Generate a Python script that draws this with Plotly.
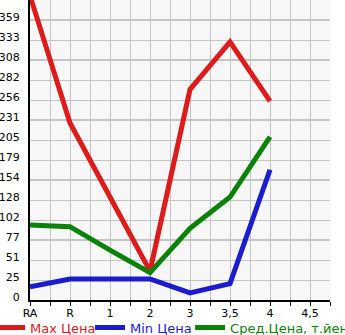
import plotly.graph_objects as go

categories = ["RA", "R", "1", "2", "3", "3,5", "4"]
max_price = [390, 227, 132, 37, 270, 331, 255]
min_price = [17, 27, 27, 27, 9, 21, 167]
avg_price = [96, 94, 64, 35, 92, 132, 209]
x_labels = ["RA", "R", "1", "2", "3", "3,5", "4", "4,5"]
y_ticks = [0, 25, 51, 77, 102, 128, 154, 179, 205, 231, 256, 282, 308, 333, 359]

series = [("Max Цена", max_price, "#dd1b1b", "legend", "paper", -0.1333),
          ("Min Цена", min_price, "#1c1ccf", "legend2", "container", 0.261),
          ("Сред.Цена, т.йен", avg_price, "#0a820a", "legend3", "container", 0.551)]

xs = list(range(len(categories)))
fig = go.Figure()
legend_layout = {}
for name, vals, col, lg, xr, lx in series:
    fig.add_trace(go.Scatter(x=xs, y=vals, mode="lines", name=name,
                             line=dict(color=col, width=5),
                             legend=lg, cliponaxis=True))
    legend_layout[lg] = dict(orientation="h", xref=xr, yref="container",
                             x=lx, xanchor="left", y=0.022, yanchor="middle",
                             font=dict(size=13, color=col), itemwidth=30,
                             bgcolor="rgba(0,0,0,0)", borderwidth=0)

fig.update_layout(
    width=345, height=335,
    margin=dict(l=30, r=15, t=0, b=35, autoexpand=False),
    paper_bgcolor="white", plot_bgcolor="#f7f7f7",
    font=dict(family="DejaVu Sans", size=11, color="black"),
    showlegend=True,
    **legend_layout,
)
fig.update_xaxes(range=[0, 7.5], tickvals=list(range(len(x_labels))), ticktext=x_labels,
                 showgrid=True, gridcolor="#c4c4c4", gridwidth=1,
                 ticks="outside", ticklen=4, tickcolor="black",
                 minor=dict(dtick=0.5, tick0=0, showgrid=True, gridcolor="#c4c4c4",
                            ticks="outside", ticklen=4, tickcolor="black"),
                 showline=True, linecolor="black", linewidth=2, zeroline=False,
                 ticklabelstandoff=-2,
                 tickfont=dict(size=11), fixedrange=True)
fig.update_yaxes(range=[0, 384.6], tickvals=y_ticks, ticktext=[str(v) for v in y_ticks],
                 showgrid=True, gridcolor="#c4c4c4", gridwidth=1,
                 minor=dict(dtick=25.64, tick0=0, showgrid=True, gridcolor="#c4c4c4"),
                 showline=True, linecolor="black", linewidth=2, zeroline=False,
                 ticks="", ticklabelshift=-3, ticklabelstandoff=6,
                 tickfont=dict(size=11), fixedrange=True)

fig.write_html("out.html")
